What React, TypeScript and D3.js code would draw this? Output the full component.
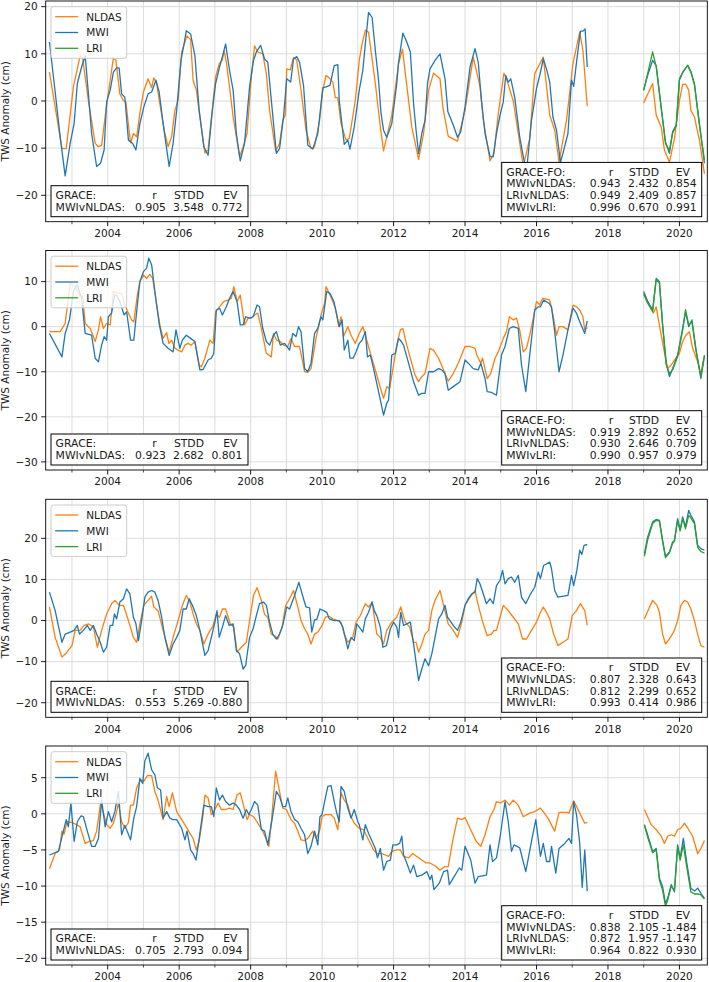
import React from "react";
import * as d3 from "d3";

type Pt = [number, number];

// ---------------- DATA ----------------
const SERIES_NAMES = ["NLDAS", "MWI", "LRI"];
const SERIES_COLORS = ["#ff7f0e", "#1f77b4", "#2ca02c"];
const X_DOMAIN: [number, number] = [2002.265, 2020.78];
const X_MAJOR = [2004, 2006, 2008, 2010, 2012, 2014, 2016, 2018, 2020];
const X_MINOR = [2003, 2005, 2007, 2009, 2011, 2013, 2015, 2017, 2019];
const Y_LABEL = "TWS Anomaly (cm)";
const STATS_HEAD = ["r", "STDD", "EV"];
const LABELS_GR = ["GRACE:", "MWIvNLDAS:"];
const LABELS_FO = ["GRACE-FO:", "MWIvNLDAS:", "LRIvNLDAS:", "MWIvLRI:"];

// Panel 1
const P1_Y_TICKS = [-20, -10, 0, 10, 20];
const P1_NLDAS_GR: Pt[] = [[2002.37,6.1],[2002.72,-10.1],[2002.84,-10.1],[2003.04,3],[2003.23,9.6],[2003.30,9],[2003.46,0],[2003.65,-9],[2003.74,-9.7],[2003.83,-9.4],[2003.95,-2],[2004.07,4.4],[2004.16,9.2],[2004.23,8.6],[2004.34,1.5],[2004.44,0.1],[2004.51,-0.2],[2004.58,-5.1],[2004.64,-8.9],[2004.72,-6.9],[2004.81,-7.6],[2004.90,-2.7],[2005.00,1.9],[2005.13,4.7],[2005.23,2.8],[2005.29,4.9],[2005.37,3.7],[2005.46,-0.6],[2005.60,-6.9],[2005.69,-9.7],[2005.79,-7.6],[2005.88,-2],[2005.97,0.1],[2006.07,10.4],[2006.22,13.8],[2006.32,13],[2006.39,4.4],[2006.48,2.3],[2006.58,-3.4],[2006.72,-11],[2006.81,-10.4],[2006.95,0.1],[2007.02,5.1],[2007.12,7.9],[2007.21,8.7],[2007.26,10.7],[2007.32,8.2],[2007.41,3],[2007.51,-3.4],[2007.69,-11.8],[2007.79,-9.7],[2007.90,-6.9],[2008.02,5.1],[2008.11,11.7],[2008.20,10.4],[2008.34,10],[2008.44,5.8],[2008.53,-2],[2008.70,-10.6],[2008.81,-9],[2008.90,-4.1],[2008.97,-3],[2009.01,6.8],[2009.11,6.6],[2009.20,9.2],[2009.29,8.7],[2009.41,2.3],[2009.55,-6.2],[2009.69,-10.1],[2009.79,-9.7],[2009.93,-4.1],[2010.02,2.3],[2010.11,5.4],[2010.20,4.9],[2010.30,4],[2010.37,0.7],[2010.44,0.7],[2010.53,-4.8],[2010.67,-8.3],[2010.76,-8],[2010.93,0.1],[2011.04,8.6],[2011.12,12.1],[2011.21,15],[2011.30,14.6],[2011.49,3.7],[2011.63,-5.5],[2011.72,-10.6],[2011.81,-7.6],[2011.95,-3],[2012.14,7.9],[2012.25,11],[2012.33,5.8],[2012.51,-5.5],[2012.70,-12.4],[2012.84,-6.9],[2012.98,2.3],[2013.12,5.9],[2013.30,4.7],[2013.38,-1.3],[2013.53,-7.5],[2013.79,-8.5],[2014.00,-2],[2014.23,9.3],[2014.42,3],[2014.51,-4],[2014.70,-12.7],[2014.81,-11],[2014.93,-2.7],[2015.09,5.9],[2015.16,4.7],[2015.35,0],[2015.49,-6.9],[2015.63,-13.8],[2015.81,-8],[2015.95,5.8],[2016.19,9.3],[2016.37,-3],[2016.51,-6.2],[2016.63,-12.9],[2016.84,-4.1],[2017.02,7.9],[2017.21,14.6],[2017.30,10.7],[2017.42,-1.1]];
const P1_MWI_GR: Pt[] = [[2002.37,12.5],[2002.53,1.9],[2002.67,-7.6],[2002.81,-15.9],[2002.95,-9],[2003.06,-4.8],[2003.15,3.7],[2003.27,7.2],[2003.37,9.6],[2003.46,1.5],[2003.55,-6.9],[2003.69,-13.9],[2003.80,-13.2],[2003.90,-10.4],[2003.97,-0.2],[2004.07,2.3],[2004.16,6.1],[2004.25,7],[2004.32,7],[2004.39,1.5],[2004.48,0.8],[2004.58,-8.3],[2004.70,-9],[2004.79,-10.4],[2004.90,-4.8],[2005.01,-1.3],[2005.13,1.5],[2005.23,1.9],[2005.35,4.4],[2005.44,1.9],[2005.55,-4.8],[2005.72,-13.9],[2005.83,-9],[2005.93,-2],[2006.05,8.6],[2006.13,11.8],[2006.20,14.9],[2006.32,14.2],[2006.44,9.6],[2006.56,-2],[2006.69,-9.7],[2006.81,-11.5],[2006.92,-2.7],[2007.02,3.7],[2007.13,7.2],[2007.23,10],[2007.30,12.1],[2007.41,6.5],[2007.51,2.3],[2007.60,-6.9],[2007.71,-12.7],[2007.83,-9],[2007.97,3],[2008.08,8.6],[2008.16,10.4],[2008.28,11.8],[2008.39,8.9],[2008.48,8.2],[2008.58,0.1],[2008.72,-11.1],[2008.81,-10.1],[2008.92,-3.4],[2009.01,4.7],[2009.12,4],[2009.20,8.9],[2009.29,9.4],[2009.37,8.2],[2009.48,3.3],[2009.60,-9.4],[2009.74,-10.2],[2009.88,-6.9],[2010.02,2.8],[2010.11,3],[2010.22,3.3],[2010.34,7.5],[2010.44,7.7],[2010.48,0.1],[2010.62,-9.2],[2010.72,-8.3],[2010.78,-10.2],[2010.90,-5.5],[2011.04,2.3],[2011.14,6.5],[2011.21,12.1],[2011.30,18.8],[2011.40,17.7],[2011.49,10.7],[2011.58,4.4],[2011.65,-2.7],[2011.72,-6.2],[2011.81,-7.7],[2011.95,-4.8],[2012.09,3.7],[2012.14,8.2],[2012.26,14.4],[2012.37,12.5],[2012.47,10.4],[2012.56,-0.6],[2012.63,-6.2],[2012.70,-11.1],[2012.79,-6.9],[2012.88,-4.1],[2012.95,3.7],[2013.02,6.8],[2013.16,8.6],[2013.30,10],[2013.44,4.7],[2013.52,-2.3],[2013.67,-5.1],[2013.79,-7.7],[2013.88,-6.5],[2014.00,-1.3],[2014.14,7.2],[2014.28,11.1],[2014.37,8.2],[2014.46,0.1],[2014.56,-6.9],[2014.70,-11.8],[2014.79,-11.8],[2014.88,-6.9],[2014.98,-3],[2015.07,-0.2],[2015.14,5.4],[2015.21,4],[2015.28,4.7],[2015.39,0.8],[2015.53,-7.6],[2015.63,-11.8],[2015.72,-15],[2015.86,-4.1],[2016.00,2.6],[2016.09,5.4],[2016.19,8.9],[2016.28,6.8],[2016.37,4],[2016.46,-3.4],[2016.56,-6.2],[2016.67,-13],[2016.74,-11.1],[2016.88,-6.9],[2016.98,4.4],[2017.04,3.1],[2017.12,8.2],[2017.23,14.8],[2017.30,14.8],[2017.36,15.3],[2017.42,7.2]];
const P1_NLDAS_FO: Pt[] = [[2019.00,-0.4],[2019.25,3.7],[2019.35,-3],[2019.49,-5.5],[2019.58,-10.4],[2019.72,-13],[2019.86,-8],[2020.00,0],[2020.09,3.5],[2020.18,3.5],[2020.26,2.3],[2020.32,-2],[2020.42,-3.4],[2020.56,-8.3],[2020.70,-15.4]];
const P1_MWI_FO: Pt[] = [[2019.00,2.4],[2019.11,5.4],[2019.25,8.6],[2019.35,7.5],[2019.49,-1.3],[2019.61,-8.7],[2019.72,-11.1],[2019.81,-6.5],[2019.91,-5.1],[2020.00,4.7],[2020.09,6.1],[2020.23,7.5],[2020.32,6.1],[2020.42,3.7],[2020.56,-4.8],[2020.70,-13.2]];
const P1_LRI_FO: Pt[] = [[2019.00,2.2],[2019.11,5.8],[2019.25,10.4],[2019.35,7.3],[2019.49,-1.6],[2019.61,-9],[2019.72,-10.5],[2019.81,-6.8],[2019.91,-5.3],[2020.00,4.4],[2020.09,6],[2020.23,7.6],[2020.32,6.3],[2020.42,3.4],[2020.56,-5.2],[2020.70,-12.5]];
const P1_STATS_GR = [["0.905", "3.548", "0.772"]];
const P1_STATS_FO = [["0.943", "2.432", "0.854"], ["0.949", "2.409", "0.857"], ["0.996", "0.670", "0.991"]];

// Panel 2
const P2_Y_TICKS = [-30, -20, -10, 0, 10];
const P2_NLDAS_GR: Pt[] = [[2002.37,-1.1],[2002.67,-1.1],[2002.81,0.7],[2002.95,9.6],[2003.09,8.9],[2003.21,7],[2003.30,6.7],[2003.37,0.7],[2003.51,-0.4],[2003.65,-3.3],[2003.74,-0.7],[2003.80,2.2],[2003.88,-0.4],[2003.97,0.7],[2004.07,0.4],[2004.16,7.8],[2004.30,7.4],[2004.39,7.4],[2004.48,4.8],[2004.58,3],[2004.67,1.5],[2004.73,1.1],[2004.83,7],[2004.90,10],[2005.00,11.5],[2005.09,10.7],[2005.18,11.6],[2005.26,10.7],[2005.37,4.8],[2005.46,0.4],[2005.55,-2.6],[2005.65,-1.3],[2005.71,-3.7],[2005.79,-3],[2005.88,-4.8],[2005.97,-5.2],[2006.07,-5.6],[2006.16,-4.1],[2006.25,-3.7],[2006.34,-4.1],[2006.44,-3.3],[2006.56,-8.5],[2006.62,-8.9],[2006.72,-7],[2006.86,-3],[2006.95,-3.7],[2007.02,3.3],[2007.13,4.4],[2007.25,5.6],[2007.37,5.9],[2007.46,6.3],[2007.53,8.9],[2007.62,5.6],[2007.71,7],[2007.83,0.4],[2007.93,1.9],[2008.02,1.9],[2008.11,2.6],[2008.20,3],[2008.30,-0.4],[2008.44,-5.9],[2008.58,-6.7],[2008.64,-1.5],[2008.73,-3],[2008.83,-3.3],[2008.92,-4.1],[2009.04,-4.4],[2009.13,-2.6],[2009.23,-4.4],[2009.37,-4.4],[2009.51,-10],[2009.60,-10.1],[2009.69,-9.3],[2009.83,-2.6],[2009.97,2.6],[2010.07,5.2],[2010.11,8.9],[2010.20,7.4],[2010.30,5.6],[2010.37,4.1],[2010.47,0],[2010.53,2.2],[2010.60,-2.2],[2010.72,0],[2010.81,-1.9],[2010.93,-3.7],[2011.04,-1.5],[2011.14,0],[2011.26,-3.3],[2011.35,-5.9],[2011.49,-9.6],[2011.61,-13],[2011.72,-15.9],[2011.81,-13.3],[2011.89,-13.7],[2012.00,-8.5],[2012.09,-4.1],[2012.19,-0.7],[2012.26,-0.4],[2012.37,-4.1],[2012.47,-7],[2012.60,-10.7],[2012.70,-12.2],[2012.79,-11.1],[2012.88,-10.4],[2013.02,-4.8],[2013.12,-5.2],[2013.26,-7],[2013.40,-9.6],[2013.53,-12.1],[2013.67,-10.4],[2013.81,-8.1],[2014.00,-4.4],[2014.14,-4.4],[2014.28,-4.8],[2014.33,-6.3],[2014.44,-8.1],[2014.49,-7],[2014.62,-11.5],[2014.72,-10.4],[2014.84,-7],[2014.93,-5.6],[2015.07,-2.6],[2015.16,-1.1],[2015.24,2.2],[2015.35,1.5],[2015.44,1.9],[2015.53,-0.7],[2015.63,-5.6],[2015.72,-4.8],[2015.81,-1.9],[2015.91,1.9],[2016.00,5.6],[2016.09,4.8],[2016.17,6.3],[2016.28,6.1],[2016.37,5.9],[2016.46,2.6],[2016.56,-1.9],[2016.63,0],[2016.74,0],[2016.88,-0.7],[2017.02,4.8],[2017.12,4.4],[2017.21,3.7],[2017.30,2.2],[2017.35,-0.7],[2017.42,-0.2]];
const P2_MWI_GR: Pt[] = [[2002.37,-1.5],[2002.72,-6.7],[2002.81,-1.5],[2002.93,1.5],[2003.04,7.8],[2003.15,9.3],[2003.27,6.3],[2003.37,-1.5],[2003.55,-1.9],[2003.65,-7],[2003.74,-7.8],[2003.83,-4.1],[2003.90,-2.2],[2003.97,-3],[2004.02,2.2],[2004.11,3],[2004.19,7],[2004.25,7],[2004.34,5.6],[2004.46,2.6],[2004.53,3.3],[2004.64,-3],[2004.73,-3],[2004.81,3.3],[2004.90,10],[2005.00,12.2],[2005.09,13],[2005.15,15.2],[2005.23,13.7],[2005.32,7.8],[2005.44,0.7],[2005.55,-3.7],[2005.69,-4.8],[2005.83,-5.6],[2005.91,-0.7],[2006.02,-4.8],[2006.09,-3],[2006.20,-1.9],[2006.32,-2.6],[2006.44,-3.3],[2006.58,-9.6],[2006.67,-9.5],[2006.81,-7.4],[2006.90,-7],[2006.97,-5.9],[2007.04,3.7],[2007.13,4.1],[2007.21,2.6],[2007.32,4.4],[2007.41,6.3],[2007.51,7.8],[2007.62,5.6],[2007.71,0.4],[2007.79,0.4],[2007.86,2.2],[2007.97,1.9],[2008.07,2.2],[2008.18,4.8],[2008.25,4.4],[2008.34,-0.4],[2008.44,-3.3],[2008.53,-4.1],[2008.64,-1.9],[2008.72,-1.1],[2008.83,-4.1],[2008.95,-3.7],[2009.09,-5.2],[2009.18,-1.5],[2009.27,-2.2],[2009.34,0],[2009.41,-1.1],[2009.51,-9.3],[2009.60,-10],[2009.69,-8.1],[2009.79,-1.5],[2009.88,-0.4],[2009.97,2.2],[2010.02,1.5],[2010.13,7.8],[2010.22,7.4],[2010.33,5.6],[2010.41,2.6],[2010.48,0],[2010.56,1.5],[2010.62,-5.2],[2010.72,-3],[2010.78,-7],[2010.87,-7],[2010.95,-5.6],[2011.04,-3.7],[2011.12,-3],[2011.21,-1.1],[2011.27,-6.7],[2011.35,-6.3],[2011.44,-9.3],[2011.58,-14.4],[2011.72,-19.6],[2011.81,-17],[2011.86,-16.3],[2011.95,-6.3],[2012.05,-5.9],[2012.14,-2.6],[2012.19,-3],[2012.28,-4.1],[2012.42,-8.1],[2012.56,-12.2],[2012.70,-15.2],[2012.79,-14.8],[2012.88,-14.8],[2012.98,-10],[2013.12,-10],[2013.26,-9.3],[2013.35,-9.6],[2013.44,-10.4],[2013.53,-14.1],[2013.67,-13.3],[2013.86,-12.2],[2014.00,-7.4],[2014.09,-8.1],[2014.23,-9.3],[2014.37,-9.6],[2014.44,-8.1],[2014.56,-11.5],[2014.62,-14.4],[2014.74,-14.6],[2014.88,-15.2],[2015.02,-6.3],[2015.12,-4.4],[2015.24,-0.4],[2015.35,0],[2015.49,-0.4],[2015.58,-8.5],[2015.70,-14.4],[2015.81,-6.3],[2015.95,3.7],[2016.05,4.4],[2016.11,4.4],[2016.20,5.9],[2016.35,5.2],[2016.42,4.4],[2016.51,-1.1],[2016.63,-10],[2016.74,-6.3],[2016.88,-0.7],[2017.02,4.1],[2017.12,3],[2017.21,1.1],[2017.35,-1.5],[2017.42,1.3]];
const P2_NLDAS_FO: Pt[] = [[2019.00,7.4],[2019.16,4.8],[2019.27,3],[2019.35,4.4],[2019.49,-1.9],[2019.61,-7],[2019.67,-9.3],[2019.77,-8.5],[2019.86,-7.4],[2020.00,-5.9],[2020.09,-3.3],[2020.18,-1.9],[2020.28,-1.1],[2020.37,-4.8],[2020.51,-7.8],[2020.60,-10.7],[2020.67,-7.4]];
const P2_MWI_FO: Pt[] = [[2019.00,7.8],[2019.11,5.6],[2019.25,3.7],[2019.35,10.7],[2019.44,10],[2019.53,0.4],[2019.63,-8.1],[2019.72,-11.1],[2019.81,-9.3],[2019.95,-6.3],[2020.09,-0.4],[2020.17,3.3],[2020.26,0],[2020.35,1.5],[2020.46,-4.8],[2020.60,-11.5],[2020.70,-6.3]];
const P2_LRI_FO: Pt[] = [[2019.00,7.2],[2019.11,5.2],[2019.25,3.4],[2019.35,10.4],[2019.44,9.7],[2019.53,0.2],[2019.63,-8.4],[2019.72,-10.4],[2019.81,-9.6],[2019.95,-6.6],[2020.09,-0.8],[2020.17,3.8],[2020.26,0.4],[2020.35,1.1],[2020.46,-5.2],[2020.60,-11],[2020.70,-6.6]];
const P2_STATS_GR = [["0.923", "2.682", "0.801"]];
const P2_STATS_FO = [["0.919", "2.892", "0.652"], ["0.930", "2.646", "0.709"], ["0.990", "0.957", "0.979"]];

// Panel 3
const P3_Y_TICKS = [-20, -10, 0, 10, 20];
const P3_NLDAS_GR: Pt[] = [[2002.37,3.3],[2002.53,-4.1],[2002.72,-8.9],[2002.86,-7.7],[2003.00,-6.1],[2003.09,-2.4],[2003.23,-2.4],[2003.34,-1.2],[2003.46,-0.8],[2003.60,-1.6],[2003.71,-6.5],[2003.83,-2.4],[2003.97,1.6],[2004.11,4.1],[2004.20,4.9],[2004.33,3.7],[2004.44,3.7],[2004.58,0],[2004.72,-4.1],[2004.81,-5.3],[2004.90,-0.8],[2005.01,3.7],[2005.13,4.9],[2005.23,5.9],[2005.29,3.3],[2005.41,2.4],[2005.55,-2.4],[2005.72,-7.7],[2005.83,-4.1],[2005.97,0],[2006.09,3.7],[2006.20,6.1],[2006.30,4.5],[2006.39,1.6],[2006.48,-0.8],[2006.58,-2.4],[2006.69,-5.7],[2006.81,-3.3],[2006.95,-1.2],[2007.04,1.6],[2007.13,0.8],[2007.21,2.8],[2007.30,2.8],[2007.43,-0.8],[2007.53,-1.6],[2007.62,-7.7],[2007.74,-6.5],[2007.88,-5.3],[2007.97,0],[2008.08,6.1],[2008.18,8],[2008.30,4.9],[2008.39,1.5],[2008.48,0.8],[2008.58,-3.3],[2008.67,-3.7],[2008.76,-4.5],[2008.88,-1.6],[2008.98,3.7],[2009.09,5.3],[2009.20,7.3],[2009.32,3.3],[2009.41,0],[2009.51,-2],[2009.60,-3.3],[2009.69,-5.7],[2009.79,-3.3],[2009.88,-2.8],[2010.00,-1.2],[2010.09,0.8],[2010.20,1],[2010.30,0.4],[2010.44,0],[2010.53,-0.4],[2010.62,-3.3],[2010.72,-5.3],[2010.86,-4.1],[2010.95,-0.4],[2011.04,0.8],[2011.07,1.2],[2011.21,4.1],[2011.30,3.3],[2011.40,4.5],[2011.53,-3.3],[2011.63,-4.1],[2011.72,-5.7],[2011.81,-2.4],[2011.95,-0.4],[2012.09,0.8],[2012.20,3.3],[2012.33,-0.4],[2012.45,-1.6],[2012.56,-5.3],[2012.63,-5.3],[2012.70,-7.7],[2012.79,-5.7],[2012.88,-3.3],[2012.98,-2.4],[2013.07,2.4],[2013.16,4.9],[2013.30,7.3],[2013.40,3.7],[2013.53,-0.8],[2013.67,-2.4],[2013.79,-4.1],[2013.91,-0.4],[2014.00,3.7],[2014.14,5.7],[2014.28,7.3],[2014.37,3.7],[2014.51,-0.8],[2014.62,-3.7],[2014.74,-3.3],[2014.81,-2.4],[2014.88,-2.4],[2014.98,0.8],[2015.07,3.7],[2015.21,2.4],[2015.35,0.8],[2015.49,-0.8],[2015.61,-4.5],[2015.72,-4.5],[2015.86,-2.4],[2016.00,-0.4],[2016.09,1.6],[2016.19,3.3],[2016.28,2],[2016.37,0.4],[2016.48,-3.3],[2016.60,-6.1],[2016.74,-5.3],[2016.88,-4.5],[2017.00,1.2],[2017.12,2.4],[2017.23,4.1],[2017.35,2.4],[2017.42,-1.2]];
const P3_MWI_GR: Pt[] = [[2002.37,6.9],[2002.53,2.4],[2002.72,-5.3],[2002.81,-3.3],[2002.95,-2.8],[2003.06,-2.4],[2003.15,-1.2],[2003.21,-3.3],[2003.32,-2.4],[2003.43,-1.2],[2003.51,-2.4],[2003.60,-1.2],[2003.69,-3.3],[2003.79,-5.3],[2003.88,-7.7],[2003.97,-6.5],[2004.07,-1.2],[2004.14,-1.2],[2004.19,1.6],[2004.25,0.4],[2004.34,4.5],[2004.44,5.3],[2004.53,7.7],[2004.62,6.5],[2004.72,0.8],[2004.79,-0.8],[2004.86,-4.9],[2004.95,0],[2005.04,5.7],[2005.13,6.9],[2005.23,7.3],[2005.32,6.9],[2005.41,4.9],[2005.51,0.8],[2005.60,-4.1],[2005.72,-8.5],[2005.83,-5.7],[2005.93,-4.1],[2006.02,-2.4],[2006.11,2.8],[2006.20,2.8],[2006.28,5.3],[2006.37,3.7],[2006.48,1.2],[2006.58,-2.4],[2006.72,-8.5],[2006.81,-7.3],[2006.90,-4.1],[2007.00,-0.4],[2007.06,2.4],[2007.12,-4.1],[2007.21,-1.6],[2007.30,1.2],[2007.40,-1.2],[2007.51,-0.8],[2007.60,-7.3],[2007.69,-8.1],[2007.79,-11.8],[2007.86,-11],[2007.97,-4.1],[2008.07,-2],[2008.16,1.2],[2008.25,4.1],[2008.36,4.5],[2008.44,3.7],[2008.53,-0.4],[2008.62,-3.3],[2008.72,-4.5],[2008.81,-3.3],[2008.90,-1.2],[2009.01,3.3],[2009.09,2.8],[2009.23,6.1],[2009.35,9.3],[2009.48,5.3],[2009.55,3.3],[2009.65,3.1],[2009.71,-2.8],[2009.79,0.2],[2009.85,0.2],[2009.94,2.8],[2010.04,2.4],[2010.13,2],[2010.20,0.4],[2010.34,0],[2010.48,0],[2010.58,-1.6],[2010.72,-6.9],[2010.81,-4.1],[2010.90,-4.9],[2010.97,-0.8],[2011.04,-1.6],[2011.14,-2.8],[2011.21,0.4],[2011.30,2],[2011.40,4.5],[2011.46,2.4],[2011.53,1.2],[2011.63,-1.6],[2011.70,-6.5],[2011.80,-6.1],[2011.91,-2],[2012.00,-0.4],[2012.09,-1.6],[2012.14,-4.1],[2012.20,2],[2012.28,-1.2],[2012.37,-0.8],[2012.47,-0.4],[2012.56,-5.7],[2012.63,-10.2],[2012.70,-14.6],[2012.79,-11.8],[2012.88,-9.3],[2012.98,-11],[2013.07,-8.1],[2013.16,-4.1],[2013.26,0.4],[2013.35,1.6],[2013.44,3.7],[2013.51,0.8],[2013.58,0],[2013.67,-1.2],[2013.79,-2.4],[2013.88,-0.4],[2014.00,3.7],[2014.09,5.3],[2014.19,6.5],[2014.28,6.9],[2014.34,10.2],[2014.42,8.9],[2014.51,6.5],[2014.60,4.1],[2014.70,5.3],[2014.79,4.1],[2014.88,8.5],[2014.98,9.8],[2015.05,12.2],[2015.12,8.9],[2015.21,10.2],[2015.30,10.6],[2015.39,9.3],[2015.49,11],[2015.58,5.7],[2015.70,4.1],[2015.81,6.1],[2015.95,8.1],[2016.05,11.8],[2016.11,10.2],[2016.20,13.4],[2016.37,14.2],[2016.42,12.6],[2016.51,7.3],[2016.60,5.7],[2016.88,6.1],[2016.98,11],[2017.04,8.5],[2017.13,12.2],[2017.21,17.1],[2017.27,16.1],[2017.33,18.3],[2017.42,18.5]];
const P3_NLDAS_FO: Pt[] = [[2019.02,0.4],[2019.14,2.8],[2019.25,4.9],[2019.37,3.7],[2019.44,2],[2019.53,-3.3],[2019.61,-5.7],[2019.72,-4.5],[2019.86,-2.4],[2019.95,0],[2020.04,3.7],[2020.14,4.9],[2020.23,4.5],[2020.32,2.8],[2020.42,0],[2020.51,-3.3],[2020.60,-6.1],[2020.70,-6.5]];
const P3_MWI_FO: Pt[] = [[2019.02,16.3],[2019.11,20.3],[2019.25,24],[2019.35,24.6],[2019.44,24.4],[2019.53,19.5],[2019.61,15.6],[2019.72,16.7],[2019.81,19.1],[2019.86,19.5],[2019.95,24.8],[2020.02,22],[2020.09,25.2],[2020.17,22.8],[2020.26,26.8],[2020.32,25.6],[2020.42,24],[2020.51,18.3],[2020.60,17.5],[2020.70,17.1]];
const P3_LRI_FO: Pt[] = [[2019.02,15.6],[2019.11,19.6],[2019.25,23.6],[2019.35,24.4],[2019.44,24.2],[2019.53,19.2],[2019.61,15.3],[2019.72,16.5],[2019.81,18.8],[2019.86,19.3],[2019.95,24.3],[2020.02,21.8],[2020.09,24.8],[2020.17,22.3],[2020.26,25.6],[2020.32,25],[2020.42,23.6],[2020.51,17.8],[2020.60,16.8],[2020.70,16.4]];
const P3_STATS_GR = [["0.553", "5.269", "-0.880"]];
const P3_STATS_FO = [["0.807", "2.328", "0.643"], ["0.812", "2.299", "0.652"], ["0.993", "0.414", "0.986"]];

// Panel 4
const P4_Y_TICKS = [-20, -15, -10, -5, 0, 5];
const P4_NLDAS_GR: Pt[] = [[2002.37,-7.6],[2002.53,-5.5],[2002.65,-5],[2002.72,-2.4],[2002.78,-2.8],[2002.86,-1.1],[2003.00,-1.2],[2003.13,-1.5],[2003.23,-1.8],[2003.37,-4.1],[2003.49,-3.8],[2003.60,-3.7],[2003.69,-2.4],[2003.80,1.5],[2003.88,0.1],[2003.97,-1.5],[2004.07,-2],[2004.16,-1.3],[2004.25,0.3],[2004.30,1.5],[2004.39,-1.1],[2004.48,-2],[2004.58,-1.2],[2004.64,1.2],[2004.72,1.2],[2004.81,3.6],[2004.92,4.7],[2005.01,4.5],[2005.11,5.3],[2005.23,5.3],[2005.32,3.1],[2005.41,1.9],[2005.55,-0.8],[2005.65,2.4],[2005.72,1],[2005.81,2.9],[2005.93,0.3],[2006.07,-0.8],[2006.16,-1.5],[2006.30,-2.7],[2006.39,-3.4],[2006.48,-5],[2006.56,-3.8],[2006.67,-0.1],[2006.72,2.6],[2006.81,2.2],[2006.90,-0.1],[2006.97,0.3],[2007.09,1.5],[2007.18,0.6],[2007.30,0.6],[2007.40,0.8],[2007.51,0.6],[2007.62,2.6],[2007.71,2.9],[2007.80,1.2],[2007.90,-0.8],[2007.97,-0.1],[2008.08,-0.4],[2008.18,-1.1],[2008.34,-2.4],[2008.44,-3.6],[2008.51,-4.5],[2008.58,-1.1],[2008.70,5.9],[2008.79,3.6],[2008.90,0.8],[2009.00,0.6],[2009.13,-0.8],[2009.23,-1.3],[2009.32,-2.4],[2009.41,-3.6],[2009.51,-3.7],[2009.60,-3.4],[2009.74,-2.4],[2009.83,-3.4],[2009.93,-2.4],[2010.00,-0.4],[2010.09,-0.1],[2010.25,-0.1],[2010.34,-0.6],[2010.44,-2.2],[2010.53,2.9],[2010.62,1.9],[2010.72,1.2],[2010.81,-0.4],[2010.90,-1.3],[2011.04,-2],[2011.16,-2.2],[2011.30,-3.6],[2011.44,-5],[2011.53,-5.5],[2011.67,-5.5],[2011.77,-5.7],[2011.86,-5.9],[2011.95,-5.2],[2012.09,-5],[2012.19,-5],[2012.28,-5.9],[2012.42,-6.1],[2012.54,-5.5],[2012.65,-5.9],[2012.79,-6.4],[2012.91,-6.8],[2013.02,-6.8],[2013.19,-7.3],[2013.30,-7.8],[2013.44,-7.3],[2013.53,-7.3],[2013.66,-3.6],[2013.79,-0.6],[2013.91,-0.8],[2014.00,-0.5],[2014.12,-1.8],[2014.31,-3.8],[2014.44,-4.5],[2014.56,-2.9],[2014.70,-0.4],[2014.81,0.6],[2014.88,1.7],[2014.99,1.5],[2015.12,1.9],[2015.24,1.2],[2015.35,1.9],[2015.49,1.2],[2015.63,-0.4],[2015.81,0.1],[2015.95,0.3],[2016.11,0.8],[2016.19,0.3],[2016.32,-0.6],[2016.51,-2.4],[2016.63,0.2],[2016.84,0.2],[2016.91,0.1],[2017.04,1.8],[2017.19,0.3],[2017.35,-1.3],[2017.42,-1.2]];
const P4_MWI_GR: Pt[] = [[2002.37,-5.7],[2002.62,-5.2],[2002.76,-2.4],[2002.84,-0.8],[2002.90,-1.8],[2002.97,1.5],[2003.06,-3.8],[2003.15,-1.1],[2003.25,-0.3],[2003.32,-0.4],[2003.43,-2.4],[2003.55,-4.5],[2003.65,-4.5],[2003.74,-3.4],[2003.83,1.9],[2003.93,-1.8],[2004.02,0.3],[2004.11,-1.1],[2004.20,0.3],[2004.30,3.1],[2004.39,-2.9],[2004.48,-1.6],[2004.64,-3.6],[2004.73,-0.6],[2004.81,1],[2004.90,4.9],[2004.98,4.2],[2005.04,7.3],[2005.13,8.4],[2005.23,6.1],[2005.32,5.4],[2005.39,3.6],[2005.48,3.3],[2005.55,-0.6],[2005.65,0.3],[2005.74,-0.6],[2005.83,-0.8],[2005.93,-0.8],[2006.07,-2],[2006.16,-3.6],[2006.22,-2.4],[2006.32,-5],[2006.39,-5.5],[2006.47,-6.4],[2006.56,-3.4],[2006.69,1.2],[2006.81,1],[2006.90,1],[2006.97,-0.4],[2007.04,3.6],[2007.13,1.9],[2007.21,2.6],[2007.30,1.7],[2007.41,1.2],[2007.51,1.5],[2007.60,1.2],[2007.69,0.6],[2007.79,-0.6],[2007.88,0.6],[2007.95,-0.1],[2008.02,0.6],[2008.11,1.7],[2008.20,1.2],[2008.30,-2.2],[2008.39,-2.4],[2008.48,-4.3],[2008.60,-0.8],[2008.72,3.1],[2008.81,2.4],[2008.90,1],[2008.98,1],[2009.04,2.2],[2009.13,0.3],[2009.23,-0.8],[2009.32,-1.1],[2009.41,-2],[2009.51,-2.9],[2009.60,-5.5],[2009.69,-4.5],[2009.79,-2.4],[2009.88,-4.3],[2009.94,-0.4],[2010.00,-0.1],[2010.07,1.7],[2010.16,3.8],[2010.25,3.9],[2010.34,1.7],[2010.41,0.1],[2010.48,-1.1],[2010.53,3.8],[2010.62,3.1],[2010.72,0.8],[2010.81,-0.6],[2010.90,0.6],[2011.00,-1.1],[2011.04,-1.5],[2011.14,-3.6],[2011.21,-1.5],[2011.30,-2.7],[2011.40,-3.8],[2011.49,-4.8],[2011.55,-6.1],[2011.63,-4.8],[2011.72,-7.8],[2011.81,-6.6],[2011.91,-6.4],[2011.98,-4.3],[2012.09,-4.3],[2012.17,-4.1],[2012.23,-3.1],[2012.28,-5.7],[2012.37,-6.8],[2012.47,-8.2],[2012.56,-7.1],[2012.65,-8.7],[2012.79,-8.5],[2012.93,-8],[2013.02,-9.1],[2013.07,-8.5],[2013.13,-10.5],[2013.28,-9.6],[2013.40,-8],[2013.51,-7.8],[2013.56,-9.8],[2013.67,-8.9],[2013.84,-7.5],[2013.91,-7.8],[2014.00,-4.5],[2014.16,-6.4],[2014.28,-9.6],[2014.37,-8.7],[2014.60,-8.5],[2014.70,-4.3],[2014.77,-6.6],[2014.88,-6.1],[2014.99,-2.9],[2015.12,1.7],[2015.21,-1.1],[2015.30,-5.2],[2015.37,-4.3],[2015.53,-4.7],[2015.70,-8],[2015.86,-3.8],[2015.98,-0.8],[2016.11,-5.9],[2016.19,-4.1],[2016.28,-6.6],[2016.37,-6.6],[2016.42,-4.5],[2016.54,-8.2],[2016.63,-4.8],[2016.79,-4.1],[2016.91,-3.4],[2016.98,-4.1],[2017.04,1.7],[2017.12,-0.1],[2017.21,-4.1],[2017.28,-10.2],[2017.35,-5],[2017.42,-10.7]];
const P4_NLDAS_FO: Pt[] = [[2019.02,0.6],[2019.21,-1.5],[2019.35,-2.2],[2019.49,-3.1],[2019.58,-4.1],[2019.67,-3.1],[2019.77,-2.9],[2019.86,-3.1],[2019.95,-2.2],[2020.04,-2],[2020.14,-1.3],[2020.26,-2.2],[2020.37,-3.1],[2020.51,-5.5],[2020.60,-4.8],[2020.70,-3.7]];
const P4_MWI_FO: Pt[] = [[2019.02,-1.5],[2019.11,-2.9],[2019.25,-5.2],[2019.35,-4.8],[2019.44,-8.9],[2019.53,-10.1],[2019.61,-12.4],[2019.67,-11.7],[2019.77,-9.8],[2019.86,-10.8],[2019.95,-4.3],[2020.02,-6.1],[2020.11,-3.4],[2020.20,-6.6],[2020.32,-10.3],[2020.42,-10.7],[2020.51,-10.3],[2020.60,-11],[2020.70,-11.7]];
const P4_LRI_FO: Pt[] = [[2019.02,-1.6],[2019.11,-3.2],[2019.25,-5.4],[2019.35,-5],[2019.44,-9.2],[2019.53,-10.6],[2019.61,-12.8],[2019.67,-12],[2019.77,-10],[2019.86,-10.6],[2019.95,-4.6],[2020.02,-6.4],[2020.11,-4.3],[2020.20,-7.2],[2020.32,-10.8],[2020.42,-11.1],[2020.51,-11.1],[2020.60,-11.2],[2020.70,-11.8]];
const P4_STATS_GR = [["0.705", "2.793", "0.094"]];
const P4_STATS_FO = [["0.838", "2.105", "-1.484"], ["0.872", "1.957", "-1.147"], ["0.964", "0.822", "0.930"]];

// ---------------- LAYOUT ----------------
const W = 709;
const H = 982;
const AX_L = 45.7;
const AX_R = 707.3;
const FONT = "'DejaVu Sans', Verdana, sans-serif";
const FS = 10.5;
const FS_STATS = 10.8;

const PANELS = [
  { top: 1, bottom: 221.7, yDomain: [-25.6, 21.2], yTicks: P1_Y_TICKS, nldas: [P1_NLDAS_GR, P1_NLDAS_FO], mwi: [P1_MWI_GR, P1_MWI_FO], lri: [P1_LRI_FO], statsGr: P1_STATS_GR, statsFo: P1_STATS_FO },
  { top: 250.5, bottom: 470, yDomain: [-31.8, 16.9], yTicks: P2_Y_TICKS, nldas: [P2_NLDAS_GR, P2_NLDAS_FO], mwi: [P2_MWI_GR, P2_MWI_FO], lri: [P2_LRI_FO], statsGr: P2_STATS_GR, statsFo: P2_STATS_FO },
  { top: 499.3, bottom: 717.3, yDomain: [-23.55, 29.5], yTicks: P3_Y_TICKS, nldas: [P3_NLDAS_GR, P3_NLDAS_FO], mwi: [P3_MWI_GR, P3_MWI_FO], lri: [P3_LRI_FO], statsGr: P3_STATS_GR, statsFo: P3_STATS_FO },
  { top: 746, bottom: 965, yDomain: [-20.93, 9.39], yTicks: P4_Y_TICKS, nldas: [P4_NLDAS_GR, P4_NLDAS_FO], mwi: [P4_MWI_GR, P4_MWI_FO], lri: [P4_LRI_FO], statsGr: P4_STATS_GR, statsFo: P4_STATS_FO },
];

const fmtTick = (v: number) => (v < 0 ? "\u2212" + Math.abs(v) : String(v));

function StatsBox({ x, yBottom, width, labels, rows, colEnds, headEnds }: any) {
  const lineH = 11.65;
  const h = 9 + labels.length * lineH - 1.3;
  const top = yBottom - h;
  return (
    <g>
      <rect x={x} y={top} width={width} height={h} fill="#ffffff" stroke="#000" strokeWidth={1} />
      {labels.map((lab: string, i: number) => (
        <text key={"l" + i} x={x + 4.6} y={top + 13.4 + i * lineH} fontSize={FS_STATS} fontFamily={FONT} fill="#1a1a1a">{lab}</text>
      ))}
      {STATS_HEAD.map((hd, j) => (
        <text key={"h" + j} x={x + headEnds[j]} y={top + 13.4} fontSize={FS_STATS} fontFamily={FONT} textAnchor="end" fill="#1a1a1a">{hd}</text>
      ))}
      {rows.map((row: string[], i: number) =>
        row.map((v, j) => (
          <text key={"v" + i + "_" + j} x={x + colEnds[j]} y={top + 13.4 + (i + 1) * lineH} fontSize={FS_STATS} fontFamily={FONT} textAnchor="end" fill="#1a1a1a">{v}</text>
        ))
      )}
    </g>
  );
}

function Panel({ cfg, idx }: any) {
  const x = d3.scaleLinear().domain(X_DOMAIN).range([AX_L, AX_R]);
  const y = d3.scaleLinear().domain(cfg.yDomain).range([cfg.bottom, cfg.top]);
  const line = d3.line<Pt>().x((d) => x(d[0])).y((d) => y(d[1]));
  const clipId = "clip" + idx;
  const groups = [cfg.nldas, cfg.mwi, cfg.lri];
  const gridColor = "#dcdcdc";
  const cy = (cfg.top + cfg.bottom) / 2;
  return (
    <g>
      <defs>
        <clipPath id={clipId}>
          <rect x={AX_L} y={cfg.top} width={AX_R - AX_L} height={cfg.bottom - cfg.top} />
        </clipPath>
      </defs>
      {/* grid */}
      {[...X_MAJOR, ...X_MINOR].map((t) => (
        <line key={"gx" + t} x1={x(t)} x2={x(t)} y1={cfg.top} y2={cfg.bottom} stroke={gridColor} strokeWidth={1} />
      ))}
      {cfg.yTicks.map((t: number) => (
        <line key={"gy" + t} x1={AX_L} x2={AX_R} y1={y(t)} y2={y(t)} stroke={gridColor} strokeWidth={1} />
      ))}
      {/* series */}
      <g clipPath={`url(#${clipId})`}>
        {groups.map((segs: Pt[][], si: number) =>
          segs.map((seg, k) => (
            <path key={si + "_" + k} d={line(seg) || ""} fill="none" stroke={SERIES_COLORS[si]} strokeWidth={1.3} strokeLinejoin="round" />
          ))
        )}
      </g>
      {/* legend */}
      <g>
        <rect x={AX_L + 5.3} y={cfg.top + 5.7} width={75.7} height={51.6} rx={2.5} fill="#ffffff" fillOpacity={0.8} stroke="#cccccc" strokeWidth={1} />
        {SERIES_NAMES.map((n, i) => (
          <g key={n}>
            <line x1={AX_L + 9.5} x2={AX_L + 32.5} y1={cfg.top + 15.7 + i * 15.8} y2={cfg.top + 15.7 + i * 15.8} stroke={SERIES_COLORS[i]} strokeWidth={1.3} />
            <text x={AX_L + 40.5} y={cfg.top + 15.7 + i * 15.8 + 3.9} fontSize={FS} fontFamily={FONT} fill="#1a1a1a">{n}</text>
          </g>
        ))}
      </g>
      {/* stats boxes */}
      <StatsBox x={AX_L + 5.3} yBottom={cfg.bottom - 5} width={197} labels={LABELS_GR} rows={cfg.statsGr} colEnds={[115, 153, 191.3]} headEnds={[105.7, 153, 186.5]} />
      <StatsBox x={501.7} yBottom={cfg.bottom - 5} width={200} labels={LABELS_FO} rows={cfg.statsFo} colEnds={[119, 157.3, 195]} headEnds={[111.6, 157.3, 188.3]} />
      {/* frame */}
      <rect x={AX_L} y={cfg.top} width={AX_R - AX_L} height={cfg.bottom - cfg.top} fill="none" stroke="#000" strokeWidth={0.9} />
      {/* x ticks */}
      {X_MAJOR.map((t) => (
        <g key={"xt" + t}>
          <line x1={x(t)} x2={x(t)} y1={cfg.bottom} y2={cfg.bottom + 4.5} stroke="#000" strokeWidth={0.9} />
          <text x={x(t)} y={cfg.bottom + 15.3} fontSize={FS} fontFamily={FONT} textAnchor="middle" fill="#1a1a1a">{t}</text>
        </g>
      ))}
      {X_MINOR.map((t) => (
        <line key={"xm" + t} x1={x(t)} x2={x(t)} y1={cfg.bottom} y2={cfg.bottom + 2.5} stroke="#000" strokeWidth={0.7} />
      ))}
      {/* y ticks */}
      {cfg.yTicks.map((t: number) => (
        <g key={"yt" + t}>
          <line x1={AX_L - 4.5} x2={AX_L} y1={y(t)} y2={y(t)} stroke="#000" strokeWidth={0.9} />
          <text x={AX_L - 8} y={y(t) + 3.8} fontSize={FS} fontFamily={FONT} textAnchor="end" fill="#1a1a1a">{fmtTick(t)}</text>
        </g>
      ))}
      <text transform={`translate(8.8,${cy}) rotate(-90)`} fontSize={FS} fontFamily={FONT} textAnchor="middle" fill="#1a1a1a">{Y_LABEL}</text>
    </g>
  );
}

export default function App() {
  return (
    <div style={{ position: "absolute", left: 0, top: 0, width: W, height: H, background: "#fff" }}>
      <svg width={W} height={H} viewBox={`0 0 ${W} ${H}`} style={{ display: "block" }}>
        <rect x={0} y={0} width={W} height={H} fill="#fff" />
        {PANELS.map((p, i) => (
          <Panel key={i} cfg={p} idx={i} />
        ))}
      </svg>
    </div>
  );
}
